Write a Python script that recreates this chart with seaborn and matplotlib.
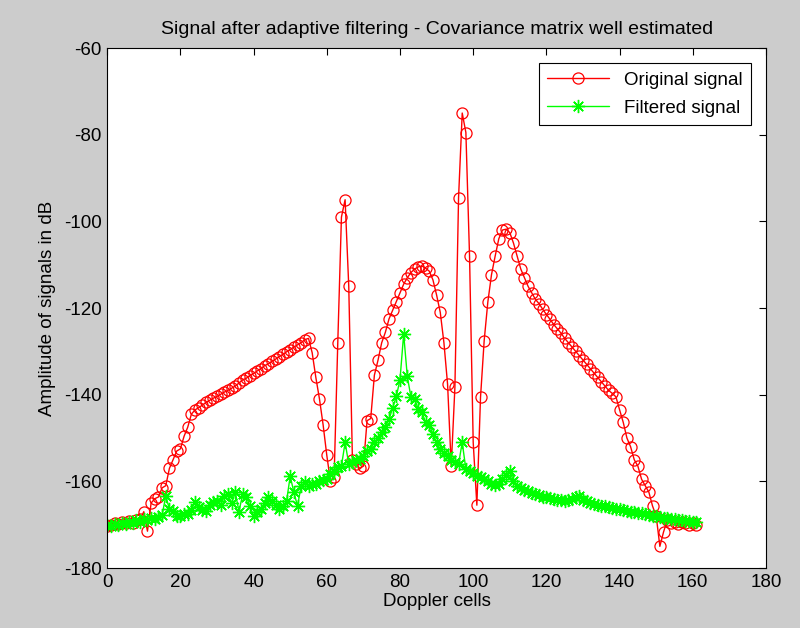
import numpy as np
import pandas as pd
import matplotlib
matplotlib.use("Agg")
import matplotlib.pyplot as plt
import seaborn as sns

cells = list(range(0, 162))

original = [
    -170.2, -170.0, -169.6, -169.8, -169.4, -169.7, -169.2, -169.5, -169.0, -168.8,
    -167.0, -171.5, -165.0, -164.0, -163.6, -161.5, -161.0, -157.0, -155.0, -153.0,
    -152.5, -149.6, -147.5, -144.5, -143.5, -143.0, -142.4, -141.8, -141.3, -140.8,
    -140.4, -139.9, -139.4, -139.0, -138.5, -138.0, -137.3, -136.6, -136.2, -135.6,
    -135.1, -134.5, -134.0, -133.3, -132.9, -132.3, -131.8, -131.2, -130.7, -130.1,
    -129.6, -129.0, -128.5, -128.0, -127.3, -127.0, -130.3, -136.0, -141.0, -147.0,
    -154.0, -160.0, -159.0, -128.0, -99.0, -95.0, -115.0, -155.0, -156.0, -157.0,
    -156.5, -146.0, -145.5, -135.5, -132.0, -128.0, -125.6, -122.5, -120.5, -118.5,
    -116.5, -114.5, -113.0, -111.8, -111.0, -110.5, -110.3, -110.8, -111.5, -113.5,
    -117.0, -121.0, -128.0, -137.6, -156.5, -138.3, -94.5, -75.0, -79.5, -108.0,
    -151.0, -165.5, -140.6, -127.5, -118.6, -112.3, -108.0, -104.0, -102.0, -101.8,
    -102.6, -105.0, -108.0, -111.0, -113.0, -115.0, -116.5, -118.0, -119.0, -120.3,
    -121.5, -122.6, -123.8, -124.8, -125.8, -127.0, -128.0, -129.0, -130.0, -131.0,
    -132.0, -133.0, -134.0, -135.0, -136.0, -137.0, -138.0, -139.0, -139.7, -140.5,
    -143.5, -146.4, -150.0, -152.0, -155.0, -156.5, -159.5, -161.0, -162.5, -165.7,
    -168.0, -175.0, -171.7, -169.0, -169.5, -169.3, -169.8, -169.4, -169.6, -170.0,
    -169.5, -170.0,
]

filtered = [
    -170.0, -170.3, -169.8, -170.0, -169.6, -169.9, -169.3, -169.6, -169.0, -169.4,
    -168.7, -169.0, -168.4, -168.8, -168.2, -167.8, -163.4, -166.4, -166.9, -168.0,
    -168.0, -167.6, -167.6, -166.5, -164.8, -166.0, -166.5, -166.9, -165.5, -164.8,
    -164.6, -165.5, -163.4, -163.0, -165.0, -162.5, -167.0, -163.0, -163.5, -165.7,
    -168.0, -167.0, -166.4, -165.0, -163.6, -164.6, -165.5, -166.4, -165.8, -164.6,
    -158.8, -162.5, -165.7, -161.0, -160.2, -161.0, -160.6, -160.6, -160.0, -159.8,
    -159.5, -158.3, -157.5, -156.7, -156.5, -151.0, -156.0, -155.5, -155.0, -154.8,
    -154.2, -153.0, -152.5, -151.0, -150.0, -148.7, -147.5, -145.7, -143.0, -140.4,
    -136.5, -126.0, -135.8, -140.6, -141.0, -143.4, -144.0, -146.4, -147.0, -149.0,
    -151.0, -152.6, -153.5, -154.2, -155.0, -155.6, -156.0, -151.0, -157.2, -157.5,
    -158.0, -158.8, -159.0, -159.5, -160.0, -160.5, -160.8, -160.5, -159.5, -158.5,
    -157.5, -160.0, -161.0, -161.5, -162.0, -162.3, -162.6, -163.0, -163.2, -163.5,
    -163.6, -163.8, -164.0, -164.2, -164.4, -164.6, -164.3, -164.0, -163.6, -163.4,
    -164.2, -164.6, -165.0, -165.2, -165.4, -165.6, -165.8, -166.0, -166.2, -166.3,
    -166.4, -166.6, -166.8, -167.0, -167.0, -167.2, -167.3, -167.5, -167.7, -167.9,
    -168.0, -168.2, -168.4, -168.5, -168.7, -168.8, -169.0, -169.0, -169.1, -169.2,
    -169.3, -169.4,
]

df = pd.DataFrame({"cell": cells, "original": original, "filtered": filtered})

sns.set_style("white")
plt.rcParams["font.family"] = ["Liberation Sans", "DejaVu Sans"]
plt.rcParams["axes.unicode_minus"] = False
plt.rcParams["text.color"] = "black"
plt.rcParams["axes.labelcolor"] = "black"

fig = plt.figure(figsize=(8.0, 6.28), dpi=100, facecolor="#cccccc")
ax = fig.add_axes([0.134, 0.0955, 0.8235, 0.828])
ax.set_facecolor("white")

sns.lineplot(data=df, x="cell", y="original", ax=ax, color="#ff0000",
             marker="o", markersize=8, markerfacecolor="none",
             markeredgecolor="#ff0000", markeredgewidth=0.9, linewidth=1.0,
             estimator=None, sort=False, label="Original signal")
sns.lineplot(data=df, x="cell", y="filtered", ax=ax, color="#00ff00",
             marker=(8, 2, 0), markersize=9.5, markerfacecolor="#00ff00",
             markeredgecolor="#00ff00", markeredgewidth=1.0, linewidth=1.0,
             estimator=None, sort=False, label="Filtered signal")

ax.set_xlim(0, 180)
ax.set_ylim(-180, -60)
ax.set_xticks(np.arange(0, 181, 20))
ax.set_yticks(np.arange(-180, -59, 20))
ax.tick_params(direction="in", length=5, width=0.8, top=True, right=True,
               labelsize=13.5, colors="black", pad=4)
for s in ax.spines.values():
    s.set_visible(True)
    s.set_color("black")
    s.set_linewidth(0.8)

ax.set_title("Signal after adaptive filtering - Covariance matrix well estimated",
             fontsize=14, pad=10, color="black")
ax.set_xlabel("Doppler cells", fontsize=13.5, labelpad=2, color="black")
ax.set_ylabel("Amplitude of signals in dB", fontsize=13.5, labelpad=6, color="black")

leg = ax.legend(loc="upper right", fontsize=13.5, frameon=True, fancybox=False,
                edgecolor="black", framealpha=1, borderaxespad=0.8,
                handlelength=3.3, borderpad=0.45, labelspacing=0.6)
leg.get_frame().set_linewidth(0.8)
for t in leg.get_texts():
    t.set_color("black")

fig.savefig("out.png", dpi=100, facecolor=fig.get_facecolor())
